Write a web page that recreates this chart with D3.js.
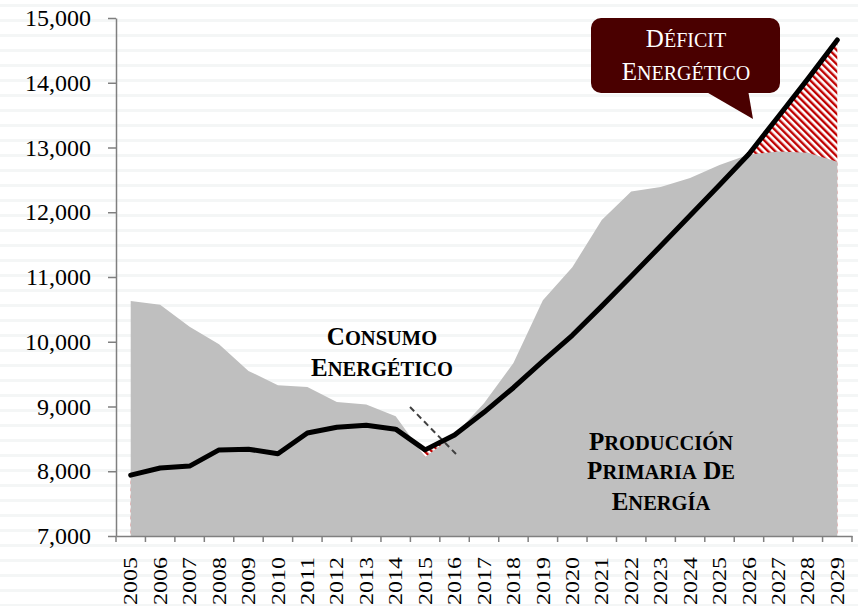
<!DOCTYPE html>
<html lang="es">
<head>
  <meta charset="UTF-8">
  <script src="https://d3js.org/d3.v7.min.js"></script>
  <style>
    body { margin: 0; background: #fff; }
    svg { display: block; font-family: "Liberation Serif", "Times New Roman", serif; }
  </style>
</head>
<body>
  <script>
    const width = 858;
    const height = 606;

    // Data
    const years = d3.range(2005, 2030).map(String);
    const consumo = [7940, 8050, 8080, 8330, 8340, 8270, 8590, 8680, 8710, 8650, 8330, 8560, 8910,
                     9290, 9700, 10100, 10550, 11010, 11480, 11950, 12420, 12900, 13480, 14060, 14660];
    const produccion = [10630, 10570, 10230, 9960, 9550, 9330, 9300, 9070, 9030, 8850, 8220, 8560, 9050,
                        9670, 10640, 11150, 11880, 12320, 12390, 12530, 12730, 12890, 12940, 12920, 12780];
    const yTicks = [7000, 8000, 9000, 10000, 11000, 12000, 13000, 14000, 15000];

    const svg = d3.select("body")
      .append("svg")
      .attr("width", width)
      .attr("height", height);

    const defs = svg.append("defs");

    // faint horizontal bands in the background
    const bg = defs.append("pattern")
      .attr("id", "bands")
      .attr("patternUnits", "userSpaceOnUse")
      .attr("width", 10)
      .attr("height", 15);
    bg.append("rect").attr("width", 10).attr("height", 15).attr("fill", "#fff");
    bg.append("rect").attr("y", 4).attr("width", 10).attr("height", 3).attr("fill", "#f4f6f6");

    // red diagonal hatch
    const hatch = defs.append("pattern")
      .attr("id", "hatch")
      .attr("patternUnits", "userSpaceOnUse")
      .attr("width", 5)
      .attr("height", 5)
      .attr("patternTransform", "rotate(-45)");
    hatch.append("rect").attr("width", 5).attr("height", 5).attr("fill", "#fff");
    hatch.append("rect").attr("width", 2.4).attr("height", 5).attr("fill", "#c00000");

    svg.append("rect")
      .attr("width", width)
      .attr("height", height)
      .attr("fill", "url(#bands)");

    const x = d3.scaleBand()
      .domain(years)
      .range([116, 852]);
    const cx = d => x(d) + x.bandwidth() / 2;

    const y = d3.scaleLinear()
      .domain([7000, 15000])
      .range([536, 18]);

    const rows = years.map((yr, i) => ({ yr, c: consumo[i], p: produccion[i] }));

    // hatch under the consumption line; production area covers it where it is higher
    svg.append("path")
      .datum(rows)
      .attr("fill", "url(#hatch)")
      .attr("d", d3.area()
        .x(d => cx(d.yr))
        .y0(y(7000))
        .y1(d => y(d.c)));

    svg.append("path")
      .datum(rows)
      .attr("fill", "#bfbfbf")
      .attr("d", d3.area()
        .x(d => cx(d.yr))
        .y0(y(7000))
        .y1(d => y(d.p)));

    // dashed separator between historic and projected data
    svg.append("line")
      .attr("x1", 410).attr("y1", 407)
      .attr("x2", 456).attr("y2", 454)
      .attr("stroke", "#404040")
      .attr("stroke-width", 2)
      .attr("stroke-dasharray", "6,4");

    svg.append("path")
      .datum(rows)
      .attr("fill", "none")
      .attr("stroke", "#000")
      .attr("stroke-width", 5)
      .attr("stroke-linejoin", "round")
      .attr("stroke-linecap", "round")
      .attr("d", d3.line()
        .x(d => cx(d.yr))
        .y(d => y(d.c)));

    // axes
    const yAxis = svg.append("g")
      .attr("transform", "translate(116,0)")
      .call(d3.axisLeft(y)
        .tickValues(yTicks)
        .tickSize(8)
        .tickSizeOuter(0)
        .tickPadding(17)
        .tickFormat(d3.format(",")));
    yAxis.selectAll("path, line").attr("stroke", "#7f7f7f").attr("stroke-width", 1.5);
    yAxis.selectAll("text")
      .attr("font-family", "Liberation Serif, Times New Roman, serif")
      .attr("font-size", 24)
      .attr("fill", "#000");

    const xAxis = svg.append("g")
      .attr("transform", "translate(0,536)")
      .call(d3.axisBottom(x).tickSize(0).tickSizeOuter(0));
    xAxis.select(".domain").attr("stroke", "#7f7f7f").attr("stroke-width", 1.5);
    xAxis.selectAll("text")
      .attr("font-family", "Liberation Serif, Times New Roman, serif")
      .attr("font-size", 19)
      .attr("fill", "#000")
      .attr("text-anchor", "end")
      .attr("transform", "translate(0,21) rotate(-90)")
      .attr("x", 0)
      .attr("y", 0)
      .attr("dy", "0.35em")
      .attr("textLength", 48)
      .attr("lengthAdjust", "spacingAndGlyphs");
    xAxis.selectAll(".bnd")
      .data(years.concat(["end"]))
      .join("line")
      .attr("class", "bnd")
      .attr("x1", d => d === "end" ? x.range()[1] : x(d))
      .attr("x2", d => d === "end" ? x.range()[1] : x(d))
      .attr("y1", 0)
      .attr("y2", 6)
      .attr("stroke", "#7f7f7f")
      .attr("stroke-width", 1.5);

    // small-caps style labels: first letter large, rest smaller capitals
    function smallCaps(g, lines, cxPos, baselines, big, small, weight, fill) {
      lines.forEach((ln, i) => {
        const t = g.append("text")
          .attr("x", cxPos)
          .attr("y", baselines[i])
          .attr("text-anchor", "middle")
          .attr("font-weight", weight)
          .attr("fill", fill);
        ln.split(" ").forEach((w, j) => {
          t.append("tspan").attr("font-size", big).text((j ? " " : "") + w[0]);
          t.append("tspan").attr("font-size", small).text(w.slice(1));
        });
      });
    }

    smallCaps(svg, ["CONSUMO", "ENERGÉTICO"], 382, [345, 376], 25, 20.5, "bold", "#000");
    smallCaps(svg, ["PRODUCCIÓN", "PRIMARIA DE", "ENERGÍA"], 661, [450, 479, 510], 25, 20.5, "bold", "#000");

    // callout
    const call = svg.append("g");
    call.append("path")
      .attr("d", "M703,90 L753,119 L748,90 Z")
      .attr("fill", "#4a0000");
    call.append("rect")
      .attr("x", 591).attr("y", 18)
      .attr("width", 189).attr("height", 75)
      .attr("rx", 10)
      .attr("fill", "#4a0000");
    smallCaps(call, ["DÉFICIT", "ENERGÉTICO"], 686, [47, 80], 25, 20, "normal", "#fff");
  </script>
</body>
</html>
